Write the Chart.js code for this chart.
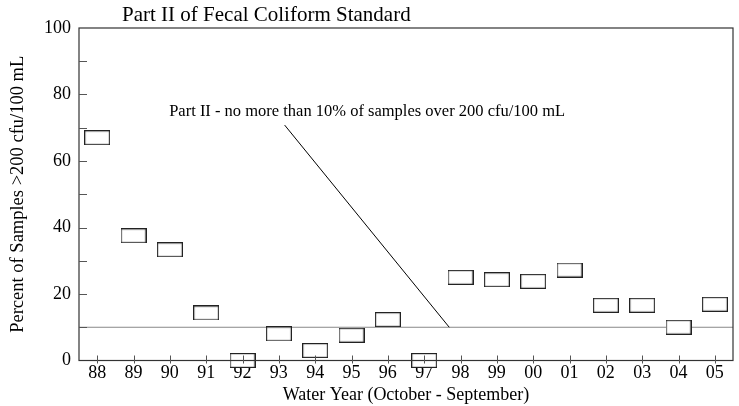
<!DOCTYPE html>
<html>
<head>
<meta charset="utf-8">
<script src="https://cdn.jsdelivr.net/npm/chart.js@4"></script>
<style>
  html, body { margin: 0; padding: 0; background: #fff; }
  #wrap { width: 739px; height: 406px; }
</style>
</head>
<body>
<div id="wrap"><canvas id="myChart" width="739" height="406"></canvas></div>
<script>
// water years (Oct - Sep)
var years = ["88", "89", "90", "91", "92", "93", "94", "95", "96", "97",
             "98", "99", "00", "01", "02", "03", "04", "05"];
// percent of samples > 200 cfu/100 mL
var percents = [67, 37.5, 33.3, 14.3, 0, 8, 3, 7.6, 12.3, 0,
                25, 24.3, 23.8, 27.2, 16.6, 16.6, 10, 16.9];
var standard = 10; // Part II limit, %
// annotation pointer, in (year index, percent)
var pointerX = [5.16, 9.69];
var pointerY = [70.8, 10];
var noteText = "Part II - no more than 10% of samples over 200 cfu/100 mL";
var noteAt = [7.43, 74.7];
var titleText = "Part II of Fecal Coliform Standard";

var serif = "'Liberation Serif', 'DejaVu Serif', serif";

// box marker
var box = document.createElement("canvas");
box.width = 26;
box.height = 15;
(function () {
  var c = box.getContext("2d");
  c.fillStyle = "#fff";
  c.fillRect(0, 0, 26, 15);
  c.strokeStyle = "#222";
  c.lineWidth = 1.2;
  c.strokeRect(0.6, 0.6, 24.8, 13.8);
})();

var points = years.map(function (y, i) { return { x: i, y: percents[i] }; });
var pointer = pointerX.map(function (x, i) { return { x: x, y: pointerY[i] }; });

const framePlugin = {
  id: "frame",
  afterDraw: function (chart) {
    const ctx = chart.ctx;
    const a = chart.chartArea;
    const xs = chart.scales.x, ys = chart.scales.y;
    ctx.save();
    ctx.strokeStyle = "#333";
    ctx.lineWidth = 1.2;
    ctx.strokeRect(a.left, a.top, a.right - a.left, a.bottom - a.top);
    ctx.lineWidth = 1;
    ctx.strokeStyle = "#555";
    // y ticks, inside
    for (var v = 10; v < 100; v += 10) {
      var py = Math.round(ys.getPixelForValue(v)) + 0.5;
      ctx.beginPath();
      ctx.moveTo(a.left, py);
      ctx.lineTo(a.left + 8, py);
      ctx.stroke();
    }
    // x ticks, crossing axis
    years.forEach(function (y, i) {
      var px = Math.round(xs.getPixelForValue(i)) + 0.5;
      ctx.beginPath();
      ctx.moveTo(px, a.bottom - 5);
      ctx.lineTo(px, a.bottom + 3);
      ctx.stroke();
    });
    // title
    ctx.fillStyle = "#000";
    ctx.font = "21px " + serif;
    ctx.textAlign = "left";
    ctx.textBaseline = "alphabetic";
    ctx.fillText(titleText, 122, 21);
    // note
    ctx.font = "16.5px " + serif;
    ctx.textAlign = "center";
    ctx.textBaseline = "middle";
    ctx.fillText(noteText, xs.getPixelForValue(noteAt[0]), ys.getPixelForValue(noteAt[1]));
    ctx.restore();
  }
};

const ctx = document.getElementById("myChart");
const myChart = new Chart(ctx, {
  type: "scatter",
  data: {
    datasets: [
      {
        type: "line",
        data: [{ x: -0.5, y: standard }, { x: years.length - 0.5, y: standard }],
        borderColor: "#888",
        borderWidth: 1,
        pointRadius: 0,
        pointHoverRadius: 0,
        order: 3
      },
      {
        type: "line",
        data: pointer,
        borderColor: "#000",
        borderWidth: 1,
        pointRadius: 0,
        pointHoverRadius: 0,
        order: 2
      },
      {
        data: points,
        pointStyle: box,
        pointRadius: 10,
        clip: false,
        order: 1
      }
    ]
  },
  options: {
    responsive: false,
    animation: false,
    layout: { autoPadding: false, padding: { top: 28, right: 6, left: 4, bottom: 1 } },
    plugins: {
      legend: { display: false },
      tooltip: { enabled: false }
    },
    scales: {
      x: {
        type: "linear",
        min: -0.5,
        max: years.length - 0.5,
        grid: { display: false, drawTicks: false },
        border: { display: false },
        afterBuildTicks: function (scale) {
          scale.ticks = years.map(function (y, i) { return { value: i }; });
        },
        afterFit: function (scale) {
          scale.paddingLeft = 0;
          scale.paddingRight = 0;
        },
        ticks: {
          autoSkip: false,
          maxRotation: 0,
          padding: 2,
          color: "#000",
          font: { family: serif, size: 18 },
          callback: function (v) { return years[Math.round(v)]; }
        },
        title: {
          display: true,
          text: "Water Year (October - September)",
          color: "#000",
          font: { family: serif, size: 18, lineHeight: 1.05 },
          padding: { top: 0, bottom: 0 }
        }
      },
      y: {
        min: 0,
        max: 100,
        grid: { display: false, drawTicks: false },
        border: { display: false },
        afterFit: function (scale) { scale.width = 75; },
        ticks: {
          stepSize: 20,
          padding: 8,
          color: "#000",
          font: { family: serif, size: 18 }
        },
        title: {
          display: true,
          text: "Percent of Samples >200 cfu/100 mL",
          color: "#000",
          font: { family: serif, size: 18.5 },
          padding: { top: 3.5, bottom: 15 }
        }
      }
    }
  },
  plugins: [framePlugin]
});
</script>
</body>
</html>
